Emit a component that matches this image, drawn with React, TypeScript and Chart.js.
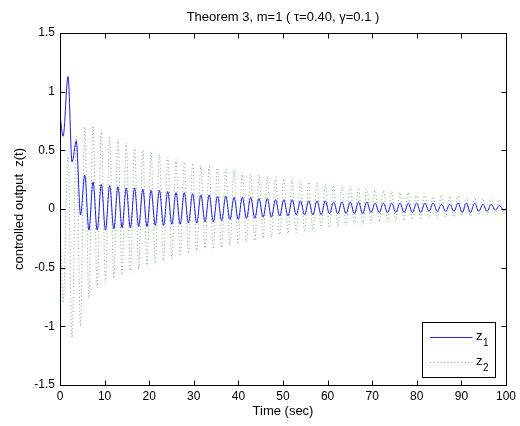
import { useEffect, useRef } from "react";
import { Chart, registerables } from "chart.js";

Chart.register(...registerables);

// Time samples (s) — local extrema
const timeSec = [
  0, 0.7, 1.8, 2.7, 3.65, 4.6,
  5.55, 6.48, 7.41, 8.34, 9.27, 10.2, 11.13, 12.06, 12.99, 13.92, 14.85, 15.78,
  16.71, 17.64, 18.57, 19.5, 20.43, 21.36, 22.29, 23.22, 24.15, 25.08, 26.01, 26.94,
  27.87, 28.8, 29.73, 30.66, 31.59, 32.52, 33.45, 34.38, 35.31, 36.24, 37.17, 38.1,
  39.03, 39.96, 40.89, 41.82, 42.75, 43.68, 44.61, 45.54, 46.47, 47.4, 48.33, 49.26,
  50.19, 51.12, 52.05, 52.98, 53.91, 54.84, 55.77, 56.7, 57.63, 58.56, 59.49, 60.42,
  61.35, 62.28, 63.21, 64.14, 65.07, 66, 66.93, 67.86, 68.79, 69.72, 70.65, 71.58,
  72.51, 73.44, 74.37, 75.3, 76.23, 77.16, 78.09, 79.02, 79.95, 80.88, 81.81, 82.74,
  83.67, 84.6, 85.53, 86.46, 87.39, 88.32, 89.25, 90.18, 91.11, 92.04, 92.97, 93.9,
  94.83, 95.76, 96.69, 97.62, 98.55, 99.48, 100,
];

const z1Values = [
  0.8, 0.62, 1.13, 0.4, 0.58, -0.05,
  0.29, -0.18, 0.23, -0.18, 0.21, -0.18, 0.2, -0.17, 0.19, -0.16, 0.18, -0.16,
  0.18, -0.15, 0.17, -0.15, 0.16, -0.14, 0.16, -0.14, 0.15, -0.13, 0.14, -0.13,
  0.14, -0.12, 0.13, -0.12, 0.12, -0.11, 0.12, -0.11, 0.11, -0.1, 0.11, -0.09,
  0.1, -0.09, 0.1, -0.08, 0.1, -0.08, 0.09, -0.07, 0.09, -0.07, 0.08, -0.06,
  0.08, -0.06, 0.08, -0.05, 0.07, -0.05, 0.07, -0.05, 0.07, -0.05, 0.07, -0.04,
  0.06, -0.04, 0.06, -0.04, 0.06, -0.04, 0.06, -0.04, 0.06, -0.03, 0.05, -0.03,
  0.05, -0.03, 0.05, -0.03, 0.05, -0.03, 0.05, -0.03, 0.05, -0.03, 0.05, -0.02,
  0.05, -0.02, 0.04, -0.02, 0.04, -0.02, 0.05, -0.03, 0.05, -0.03, 0.05, -0.02,
  0.04, -0.02, 0.04, -0.01, 0.03, -0.01, 0.0,
];

const z2Values = [
  0.05, -0.8, 0.45, -1.1, 0.62, -1.0,
  0.7, -0.76, 0.71, -0.67, 0.67, -0.62, 0.62, -0.59, 0.59, -0.56, 0.56, -0.54,
  0.53, -0.51, 0.5, -0.48, 0.48, -0.46, 0.46, -0.44, 0.44, -0.42, 0.42, -0.4,
  0.4, -0.38, 0.39, -0.37, 0.37, -0.35, 0.36, -0.34, 0.35, -0.33, 0.34, -0.31,
  0.33, -0.3, 0.31, -0.28, 0.3, -0.27, 0.29, -0.25, 0.28, -0.24, 0.27, -0.22,
  0.26, -0.21, 0.25, -0.2, 0.24, -0.19, 0.23, -0.18, 0.22, -0.17, 0.21, -0.16,
  0.2, -0.15, 0.19, -0.14, 0.19, -0.13, 0.18, -0.13, 0.17, -0.12, 0.16, -0.11,
  0.16, -0.11, 0.15, -0.1, 0.14, -0.1, 0.14, -0.09, 0.13, -0.09, 0.13, -0.08,
  0.12, -0.08, 0.12, -0.07, 0.11, -0.07, 0.11, -0.06, 0.1, -0.06, 0.1, -0.05,
  0.09, -0.05, 0.09, -0.05, 0.08, -0.04, 0.02,
];

const xTickValues = [0, 10, 20, 30, 40, 50, 60, 70, 80, 90, 100];
const yTickValues = [-1.5, -1, -0.5, 0, 0.5, 1, 1.5];
const yTickLabels = ["-1.5", "-1", "-0.5", "0", "0.5", "1", "1.5"];

const titleText = "Theorem 3, m=1 ( \u03c4=0.40, \u03b3=0.1 )";
const xTitle = "Time (sec)";
const yTitle = "controlled output  z(t)";
const legendBase = ["z", "z"];
const legendSub = ["1", "2"];

const FONT = '"Liberation Sans", Arial, Helvetica, sans-serif';
const Z1_COLOR = "rgb(30,30,220)";
const Z2_COLOR = "rgba(20,120,40,0.6)";
const Z2_DASH = [1, 2.5];

const matlabBox = {
  id: "matlabBox",
  afterDatasetsDraw(chart: any) {
    const { ctx, chartArea, scales } = chart;
    const { left, right, top, bottom } = chartArea;
    const L = Math.round(left) + 0.5;
    const R = Math.round(right) + 0.5;
    const T = Math.round(top) + 0.5;
    const B = Math.round(bottom) + 0.5;
    ctx.save();
    ctx.strokeStyle = "#000";
    ctx.lineWidth = 1;
    ctx.setLineDash([]);
    ctx.strokeRect(L, T, R - L, B - T);
    const tl = 5;
    ctx.beginPath();
    xTickValues.forEach((v) => {
      const px = Math.round(scales.x.getPixelForValue(v)) + 0.5;
      ctx.moveTo(px, B);
      ctx.lineTo(px, B - tl);
      ctx.moveTo(px, T);
      ctx.lineTo(px, T + tl);
    });
    yTickValues.forEach((v) => {
      const py = Math.round(scales.y.getPixelForValue(v)) + 0.5;
      ctx.moveTo(L, py);
      ctx.lineTo(L + tl, py);
      ctx.moveTo(R, py);
      ctx.lineTo(R - tl, py);
    });
    ctx.stroke();

    // legend box (bottom-right inside axes)
    const bw = 73;
    const bh = 55;
    const bx = Math.round(right - 11 - bw) + 0.5;
    const by = Math.round(bottom - 8 - bh) + 0.5;
    ctx.fillStyle = "#fff";
    ctx.fillRect(bx, by, bw, bh);
    ctx.strokeStyle = "#000";
    ctx.strokeRect(bx, by, bw, bh);

    const rows = [
      { color: Z1_COLOR, dash: [] as number[], y: by + 14 },
      { color: Z2_COLOR, dash: Z2_DASH, y: by + 39.5 },
    ];
    rows.forEach((r, i) => {
      ctx.beginPath();
      ctx.strokeStyle = r.color;
      ctx.setLineDash(r.dash);
      ctx.moveTo(bx + 7.5, Math.round(r.y) + 0.5);
      ctx.lineTo(bx + 50, Math.round(r.y) + 0.5);
      ctx.stroke();
      ctx.setLineDash([]);
      ctx.fillStyle = "#000";
      ctx.textAlign = "left";
      ctx.textBaseline = "alphabetic";
      ctx.font = `13px ${FONT}`;
      ctx.fillText(legendBase[i], bx + 53.5, r.y + 3);
      const zw = ctx.measureText(legendBase[i]).width;
      ctx.font = `10px ${FONT}`;
      ctx.fillText(legendSub[i], bx + 53.5 + zw + 0.5, r.y + 9);
    });
    ctx.restore();
  },
};

export default function App() {
  const canvasRef = useRef<HTMLCanvasElement | null>(null);

  useEffect(() => {
    const canvas = canvasRef.current;
    if (!canvas) return;
    const z1Data = timeSec.map((t, i) => ({ x: t, y: z1Values[i] }));
    const z2Data = timeSec.map((t, i) => ({ x: t, y: z2Values[i] }));

    const chart = new Chart(canvas, {
      type: "line",
      data: {
        datasets: [
          {
            label: "z2",
            data: z2Data,
            borderColor: Z2_COLOR,
            borderWidth: 1,
            borderDash: Z2_DASH,
            pointRadius: 0,
            cubicInterpolationMode: "monotone",
            fill: false,
            order: 2,
          },
          {
            label: "z1",
            data: z1Data,
            borderColor: Z1_COLOR,
            borderWidth: 1,
            pointRadius: 0,
            cubicInterpolationMode: "monotone",
            fill: false,
            order: 1,
          },
        ],
      },
      options: {
        responsive: false,
        animation: false,
        events: [],
        layout: { padding: { left: 0, right: 12, top: 0, bottom: 0 } },
        plugins: {
          legend: { display: false },
          tooltip: { enabled: false },
          title: {
            display: true,
            text: titleText,
            fullSize: false,
            color: "#000",
            font: { family: FONT, size: 13, weight: "normal" },
            padding: { top: 9.2, bottom: 8.2 },
          },
        },
        scales: {
          x: {
            type: "linear",
            min: 0,
            max: 100,
            grid: { display: false, drawTicks: false },
            border: { display: false },
            afterBuildTicks: (s: any) => {
              s.ticks = xTickValues.map((v) => ({ value: v }));
            },
            afterFit: (s: any) => {
              s.height = 41;
            },
            ticks: {
              color: "#000",
              padding: 4,
              maxRotation: 0,
              autoSkip: false,
              font: { family: FONT, size: 12 },
              callback: (v: any) => String(v),
            },
            title: {
              display: true,
              text: xTitle,
              color: "#000",
              font: { family: FONT, size: 13 },
              padding: { top: 7.2, bottom: 7.2 },
            },
          },
          y: {
            type: "linear",
            min: -1.5,
            max: 1.5,
            grid: { display: false, drawTicks: false },
            border: { display: false },
            afterBuildTicks: (s: any) => {
              s.ticks = yTickValues.map((v) => ({ value: v }));
            },
            afterFit: (s: any) => {
              s.width = 60;
            },
            ticks: {
              color: "#000",
              padding: 5,
              autoSkip: false,
              font: { family: FONT, size: 12 },
              callback: (_v: any, i: number) => yTickLabels[i],
            },
            title: {
              display: true,
              text: yTitle,
              color: "#000",
              font: { family: FONT, size: 13 },
              padding: { top: 11.2, bottom: 11.2 },
            },
          },
        },
      },
      plugins: [matlabBox],
    } as any);

    return () => chart.destroy();
  }, []);

  return (
    <div style={{ position: "absolute", left: 0, top: 0, width: 520, height: 426, background: "#fff" }}>
      <canvas ref={canvasRef} width={520} height={426} style={{ display: "block" }} />
    </div>
  );
}
